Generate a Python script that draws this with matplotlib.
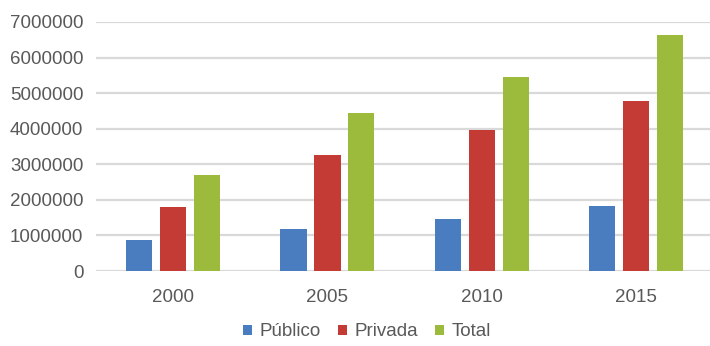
import numpy as np
import matplotlib
matplotlib.use("Agg")
import matplotlib.pyplot as plt

plt.rcParams['font.family'] = ['Liberation Sans', 'DejaVu Sans']

# datos por año
anios = ['2000', '2005', '2010', '2015']
publico = [880000, 1190000, 1460000, 1830000]
privada = [1790000, 3250000, 3970000, 4790000]
total = [2690000, 4450000, 5460000, 6630000]

series = ['Público', 'Privada', 'Total']
colores = ['#4a7cc0', '#c43b36', '#9cba3c']

fig = plt.figure(figsize=(7.10, 3.46), dpi=100)
ax = fig.add_axes([96 / 710, 75 / 346, 614 / 710, 249 / 346])

x = np.arange(len(anios))
ancho = 0.17
paso = 0.22
for i, (nombre, valores) in enumerate(zip(series, [publico, privada, total])):
    ax.bar(x + (i - 1) * paso, valores, width=ancho, color=colores[i],
           label=nombre, zorder=3)

ax.set_xlim(-0.5, 3.48)
ax.set_ylim(0, 7000000)
ax.set_yticks(np.arange(0, 7000001, 1000000))
ax.set_yticklabels([str(v) for v in range(0, 7000001, 1000000)])
ax.set_xticks(x)
ax.set_xticklabels(anios)
ax.tick_params(axis='both', length=0, labelsize=13.5, labelcolor='#595959')
ax.tick_params(axis='y', pad=9)
ax.tick_params(axis='x', pad=13)
ax.grid(axis='y', color='#d9d9d9', linewidth=1.6, zorder=0)
for s in ax.spines.values():
    s.set_visible(False)

fig.legend(loc='center', bbox_to_anchor=(367 / 710, 1 - 332 / 346), ncol=3,
           frameon=False, fontsize=13.5, labelcolor='#595959',
           handlelength=0.5, handleheight=0.5, handletextpad=0.4,
           columnspacing=0.9)

fig.savefig('out.png', dpi=100, facecolor='white')
